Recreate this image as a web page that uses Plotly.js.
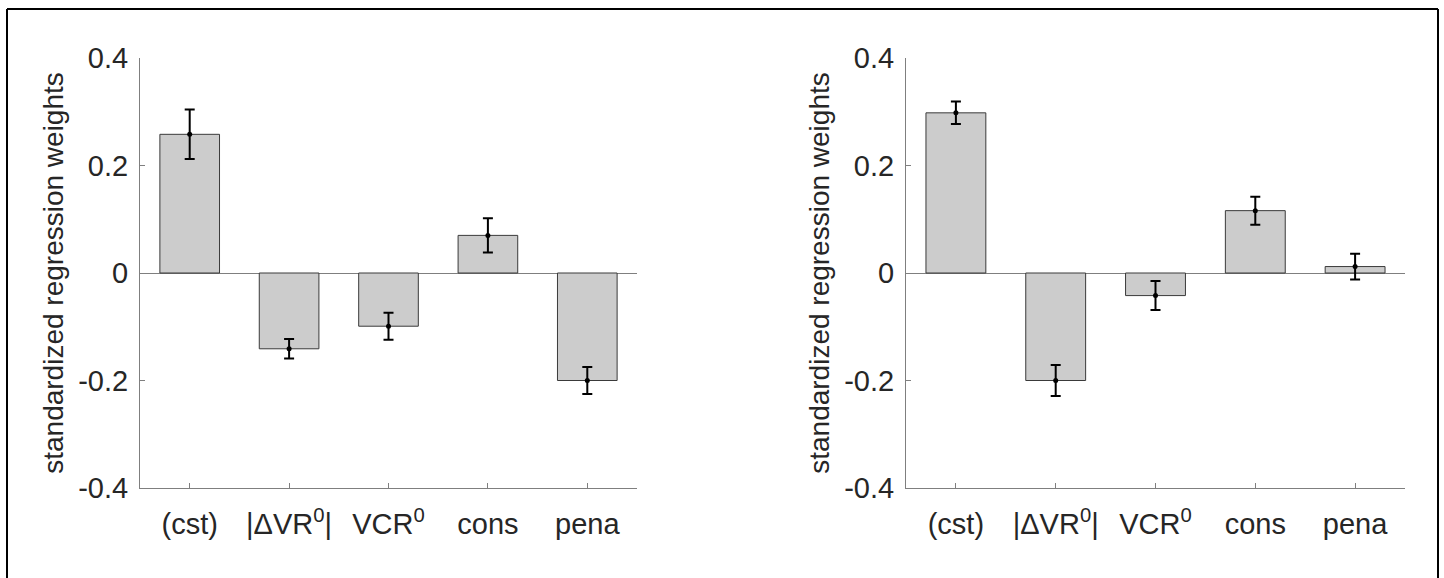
<!DOCTYPE html>
<html>
<head>
<meta charset="utf-8">
<script src="https://cdn.plot.ly/plotly-3.0.1.min.js"></script>
<style>html,body{margin:0;padding:0;background:#fff;}#chart{width:1444px;height:578px;}</style>
</head>
<body>
<div id="chart"></div>
<script>
// ---- data ----
const categories = ['(cst)', '|ΔVR<sup>0</sup>|', 'VCR<sup>0</sup>', 'cons', 'pena'];
const leftValues = [0.258, -0.141, -0.099, 0.070, -0.200];
const leftErrors = [0.046, 0.018, 0.025, 0.032, 0.025];
const rightValues = [0.298, -0.200, -0.042, 0.116, 0.012];
const rightErrors = [0.021, 0.029, 0.027, 0.026, 0.024];
const yTickVals = [-0.4, -0.2, 0, 0.2, 0.4];
const yTickText = ['-0.4', '-0.2', '0', '0.2', '0.4'];
const yTitle = 'standardized regression weights';

// ---- styling ----
const W = 1444, H = 578;
const FONT = 'Liberation Sans, Arial, sans-serif';
const TXT = '#262626';
const AX = '#7f7f7f';

function barTrace(vals, xa, ya) {
  return {
    type: 'bar', x: categories, y: vals, xaxis: xa, yaxis: ya,
    width: 0.6,
    marker: {color: '#cccccc', line: {color: '#3a3a3a', width: 1}},
    hoverinfo: 'skip', showlegend: false
  };
}
function errTrace(vals, errs, xa, ya) {
  return {
    type: 'scatter', mode: 'markers', x: categories, y: vals, xaxis: xa, yaxis: ya,
    marker: {color: '#000', size: 5},
    error_y: {type: 'data', array: errs, visible: true, color: '#000', thickness: 2, width: 5},
    hoverinfo: 'skip', showlegend: false, cliponaxis: false
  };
}

const px = v => v / W;
const py = v => 1 - v / H;

function xAxis(domain, anchor) {
  return {
    domain: domain, anchor: anchor, type: 'category',
    range: [-0.5, 4.5],
    showline: true, linecolor: AX, linewidth: 1,
    ticks: 'inside', ticklen: 5, tickcolor: AX, tickwidth: 1,
    showgrid: false, zeroline: false,
    tickfont: {family: FONT, size: 29, color: TXT},
    ticklabelstandoff: 10,
    fixedrange: true
  };
}
function yAxis(anchor) {
  return {
    domain: [py(488), py(58)], anchor: anchor,
    range: [-0.4, 0.4],
    tickvals: yTickVals, ticktext: yTickText,
    showline: true, linecolor: AX, linewidth: 1,
    ticks: 'inside', ticklen: 5, tickcolor: AX, tickwidth: 1,
    showgrid: false, zeroline: true, zerolinecolor: AX, zerolinewidth: 1,
    tickfont: {family: FONT, size: 29, color: TXT},
    ticklabelstandoff: 5,
    title: {text: yTitle, font: {family: FONT, size: 28, color: TXT}, standoff: 6},
    fixedrange: true
  };
}

const data = [
  barTrace(leftValues, 'x', 'y'),
  errTrace(leftValues, leftErrors, 'x', 'y'),
  barTrace(rightValues, 'x2', 'y2'),
  errTrace(rightValues, rightErrors, 'x2', 'y2')
];

const layout = {
  width: W, height: H,
  margin: {l: 0, r: 0, t: 0, b: 0, pad: 0},
  paper_bgcolor: '#fff', plot_bgcolor: 'rgba(0,0,0,0)',
  showlegend: false,
  bargap: 0.4,
  xaxis: xAxis([px(140), px(637)], 'y'),
  yaxis: yAxis('x'),
  xaxis2: xAxis([px(906), px(1405)], 'y2'),
  yaxis2: yAxis('x2'),
  shapes: [
    {type: 'line', xref: 'paper', yref: 'paper', x0: px(7), x1: px(1438), y0: py(9), y1: py(9), line: {color: '#000', width: 2}},
    {type: 'line', xref: 'paper', yref: 'paper', x0: px(7), x1: px(7), y0: py(9), y1: -0.05, line: {color: '#000', width: 2}},
    {type: 'line', xref: 'paper', yref: 'paper', x0: px(1438), x1: px(1438), y0: py(9), y1: -0.05, line: {color: '#000', width: 2}}
  ]
};

Plotly.newPlot('chart', data, layout, {displayModeBar: false, staticPlot: true});
</script>
</body>
</html>
